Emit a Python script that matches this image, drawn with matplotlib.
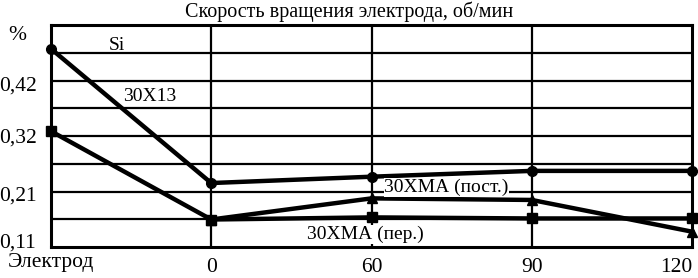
import numpy as np
import matplotlib as mpl
import matplotlib.pyplot as plt
import matplotlib.transforms as mtransforms

mpl.rcParams.update({
    'font.family': 'serif',
    'font.serif': ['Liberation Serif', 'DejaVu Serif'],
    'figure.facecolor': 'white',
    'axes.facecolor': 'white',
})

CATEGORIES = ['Электрод', '0', '60', '90', '120']
SI_30X13 = [0.485, 0.231, 0.243, 0.254, 0.254]
SI_30XMA_PER = [0.329, 0.162, 0.166, 0.164, 0.164]
SI_30XMA_POST_CATS = ['0', '60', '90', '120']
SI_30XMA_POST = [0.162, 0.202, 0.199, 0.139]

Y_MIN, Y_MAX = 0.11, 0.53
Y_LABEL_POS = [0.123, 0.212, 0.32, 0.42, 0.515]
Y_LABELS = ['0,11', '0,21', '0,32', '0,42', '%']

FS_TICK = 15.5
FS_TITLE = 14.5
FS_NOTE = 14

fig = plt.figure(figsize=(6.98, 2.78), dpi=100)
ax = fig.add_axes([51 / 698, 1 - 247 / 278, 641 / 698, 222 / 278])

x = np.arange(len(CATEGORIES))
x_post = [CATEGORIES.index(c) for c in SI_30XMA_POST_CATS]

ax.set_xlim(0, len(CATEGORIES) - 1)
ax.set_ylim(Y_MIN, Y_MAX)

# grid
for yv in np.linspace(Y_MIN, Y_MAX, 9)[1:-1]:
    ax.axhline(yv, color='black', lw=1.6, zorder=1)
for xv in x[1:-1]:
    ax.axvline(xv, color='black', lw=1.6, zorder=1)
for sp in ax.spines.values():
    sp.set_linewidth(2.2)

line_kw = dict(color='black', lw=3.2, markersize=7, zorder=3, clip_on=False)
ax.plot(x, SI_30X13, marker='o', **line_kw)
ax.plot(x, SI_30XMA_PER, marker='s', **line_kw)
ax.plot(x_post, SI_30XMA_POST, marker='^', **line_kw)

ax.set_xticks(x)
ax.set_xticklabels(CATEGORIES)
ax.set_yticks(Y_LABEL_POS)
ax.set_yticklabels(Y_LABELS)
ax.tick_params(length=0, labelsize=FS_TICK)
ax.tick_params(axis='x', pad=8)
ax.tick_params(axis='y', pad=24)
for lbl in ax.get_yticklabels():
    lbl.set_horizontalalignment('center')
xlbls = ax.get_xticklabels()
xlbls[-1].set_horizontalalignment('right')
# first category label sits a little higher than the numbers
xlbls[0].set_transform(xlbls[0].get_transform() +
                       mtransforms.ScaledTranslation(0, 5 / 100, fig.dpi_scale_trans))

ax.text(0.465, 1.0 + 3 / 222, 'Скорость вращения электрода, об/мин',
        transform=ax.transAxes, fontsize=FS_TITLE, ha='center', va='bottom')

def note(xx, yy, s, box=False):
    kw = dict(fontsize=FS_NOTE, ha='left', va='center', zorder=5)
    if box:
        kw['bbox'] = dict(facecolor='white', edgecolor='none', pad=0.5)
    ax.text(xx, yy, s, **kw)

note(0.36, 0.492, 'Si')
note(0.45, 0.394, '30Х13')
note(2.08, 0.222, '30ХМА (пост.)', box=True)
note(1.6, 0.133, '30ХМА (пер.)', box=True)

fig.savefig('out.png', dpi=100)
